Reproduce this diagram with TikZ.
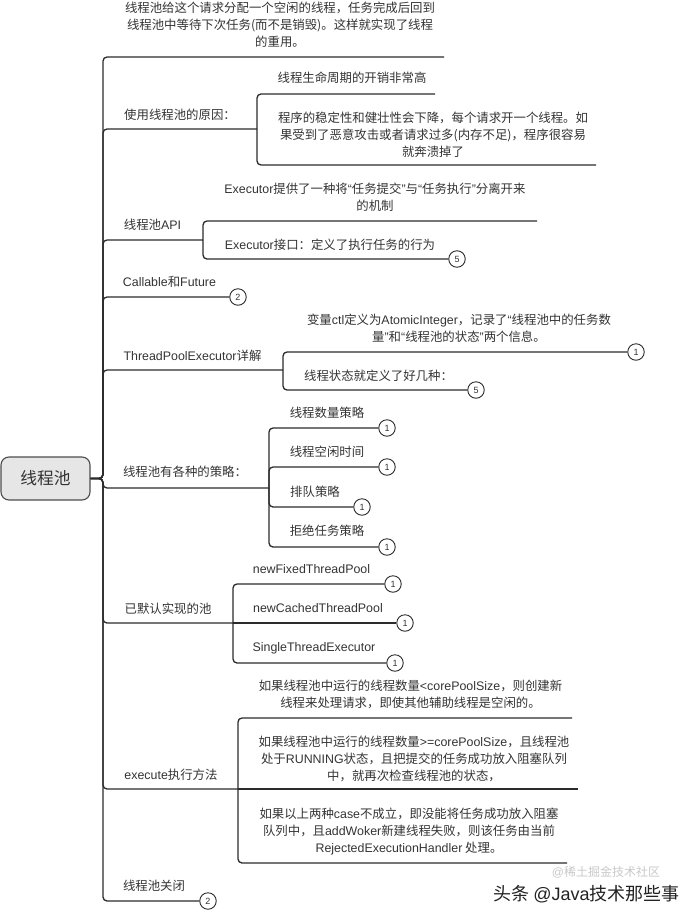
\documentclass[tikz,border=0pt]{standalone}
\usepackage{fontspec}
\setmainfont{Noto Sans CJK SC}
\newfontfamily\engfont{Liberation Sans}
\newcommand{\eng}[1]{{\engfont #1}}
\newcommand{\mapfont}{\fontsize{12.4}{17.2}\selectfont}
\newcommand{\rootfont}{\fontsize{16.7}{20}\selectfont}
\newcommand{\badgefont}{\fontsize{9}{10}\selectfont\engfont}
\definecolor{mapLine}{HTML}{2B2B2B}
\definecolor{mapText}{HTML}{333333}
\definecolor{mapRootLine}{HTML}{4D4D4D}
\definecolor{mapRootBg}{HTML}{E6E6E6}
\definecolor{mapMark}{HTML}{222222}
\definecolor{mapMarkFaint}{HTML}{C8C8C8}

\begin{document}
\begin{tikzpicture}[
    x=1pt,y=-1pt,
    every node/.style={font=\mapfont,text=mapText,align=center,inner sep=0pt},
    topic/.style={draw=mapRootLine,fill=mapRootBg,rounded corners=8pt,line width=1.1pt,minimum width=89pt,minimum height=43pt,font=\rootfont},
    badge/.style={circle,draw=mapLine,fill=white,line width=0.9pt,minimum size=16.5pt,font=\badgefont},
    link/.style={draw=mapLine,line width=1.3pt,rounded corners=4pt}
]
\useasboundingbox (0,0) rectangle (696,919);

\node[topic] (root) at (45.5,478.5) {线程池};
\coordinate (hub) at (103,478.5);

% first level
\node (reuseTxt) at (280,25) {线程池给这个请求分配一个空闲的线程，任务完成后回到\\线程池中等待下次任务(而不是销毁)。这样就实现了线程\\的重用。};
\coordinate (reuse) at (444,57);

\node (whyTxt) at (180,115) {使用线程池的原因：};
\coordinate (why) at (257,129);
\node (costlyTxt) at (352,78) {线程生命周期的开销非常高};
\coordinate (costly) at (435,94);
\node (unstableTxt) at (433,135) {程序的稳定性和健壮性会下降，每个请求开一个线程。如\\果受到了恶意攻击或者请求过多(内存不足)，程序很容易\\就奔溃掉了};
\coordinate (unstable) at (596,165);

\node (apiTxt) at (152.5,225) {线程池\eng{API}};
\coordinate (api) at (203,240);
\node (separateTxt) at (375,197) {\eng{Executor}提供了一种将\eng{“}任务提交\eng{”}与\eng{“}任务执行\eng{”}分离开来\\的机制};
\coordinate (separate) at (537,221);
\node (ifaceTxt) at (330,245) {\eng{Executor}接口：定义了执行任务的行为};
\node[badge] (iface) at (457,259) {5};

\node (futureTxt) at (169.5,282) {\eng{Callable}和\eng{Future}};
\node[badge] (future) at (238,297) {2};

\node (tpeTxt) at (192.5,356) {\eng{ThreadPoolExecutor}详解};
\coordinate (tpe) at (283,370);
\node (ctlTxt) at (459,328.5) {变量\eng{ctl}定义为\eng{AtomicInteger}，记录了\eng{“}线程池中的任务数\\量\eng{”}和\eng{“}线程池的状态\eng{”}两个信息。};
\node[badge] (ctl) at (636,352) {1};
\node (statesTxt) at (378.5,376) {线程状态就定义了好几种：};
\node[badge] (states) at (476,390) {5};

\node (policyTxt) at (185,472) {线程池有各种的策略：};
\coordinate (policy) at (269,488);
\node (sizeTxt) at (327,413) {线程数量策略};
\node[badge] (size) at (387,428) {1};
\node (idleTxt) at (327,452) {线程空闲时间};
\node[badge] (idle) at (387,467) {1};
\node (queueTxt) at (315,492) {排队策略};
\node[badge] (queue) at (362,507) {1};
\node (rejectTxt) at (327,531) {拒绝任务策略};
\node[badge] (reject) at (387,547) {1};

\node (poolsTxt) at (168,609) {已默认实现的池};
\coordinate (pools) at (233,623);
\node (fixedTxt) at (311.5,569) {\eng{newFixedThreadPool}};
\node[badge] (fixed) at (393,584) {1};
\node (cachedTxt) at (318,608) {\eng{newCachedThreadPool}};
\node[badge] (cached) at (405,623) {1};
\node (singleTxt) at (314,648) {\eng{SingleThreadExecutor}};
\node[badge] (single) at (395,663) {1};

\node (execTxt) at (171,775) {\eng{execute}执行方法};
\coordinate (exec) at (238,789);
\node (ruleATxt) at (410.5,694.5) {如果线程池中运行的线程数量\eng{<corePoolSize}，则创建新\\线程来处理请求，即使其他辅助线程是空闲的。};
\coordinate (ruleA) at (572,718);
\node (ruleBTxt) at (414,758.7) {如果线程池中运行的线程数量\eng{>=corePoolSize}，且线程池\\处于\eng{RUNNING}状态，且把提交的任务成功放入阻塞队列\\中，就再次检查线程池的状态，};
\coordinate (ruleB) at (578,789);
\node (ruleCTxt) at (409,831.7) {如果以上两种\eng{case}不成立，即没能将任务成功放入阻塞\\队列中，且\eng{addWoker}新建线程失败，则该任务由当前\\\eng{RejectedExecutionHandler} 处理。};
\coordinate (ruleC) at (567,863);

\node (shutdownTxt) at (154,886) {线程池关闭};
\node[badge] (shutdown) at (208,901) {2};

% watermark
\node[font=\fontsize{12}{14}\selectfont,text=mapMarkFaint] (faint) at (606,872) {\eng{@}稀土掘金技术社区};
\node[font=\fontsize{18}{20}\selectfont,text=mapMark] (mark) at (586.5,894) {头条 \eng{@Java}技术那些事};

% connectors
\draw[link] (root.east) -- (hub) |- (reuse);
\draw[link] (root.east) -- (hub) |- (why);
\draw[link] (root.east) -- (hub) |- (api);
\draw[link] (root.east) -- (hub) |- (future);
\draw[link] (root.east) -- (hub) |- (tpe);
\draw[link] (root.east) -- (hub) |- (policy);
\draw[link] (root.east) -- (hub) |- (pools);
\draw[link] (root.east) -- (hub) |- (exec);
\draw[link] (root.east) -- (hub) |- (shutdown);

\draw[link] (why) |- (costly);
\draw[link] (why) |- (unstable);
\draw[link] (api) |- (separate);
\draw[link] (api) |- (iface);
\draw[link] (tpe) |- (ctl);
\draw[link] (tpe) |- (states);
\draw[link] (policy) |- (size);
\draw[link] (policy) |- (idle);
\draw[link] (policy) |- (queue);
\draw[link] (policy) |- (reject);
\draw[link] (pools) |- (fixed);
\draw[link] (pools) -- (cached);
\draw[link] (pools) |- (single);
\draw[link] (exec) |- (ruleA);
\draw[link] (exec) -- (ruleB);
\draw[link] (exec) |- (ruleC);
\end{tikzpicture}
\end{document}
